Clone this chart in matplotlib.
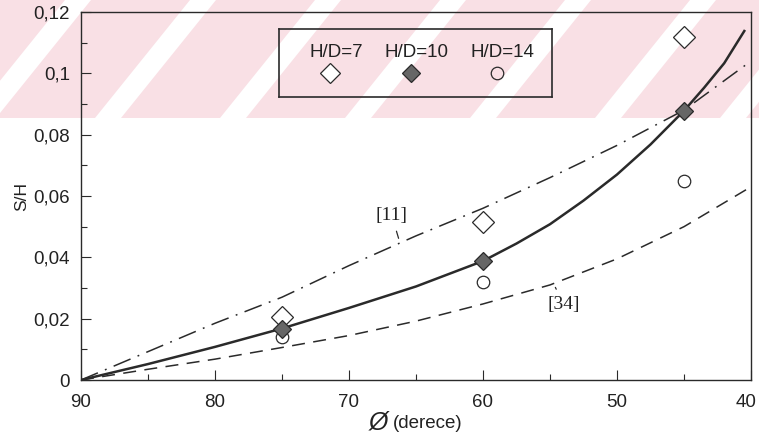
import numpy as np
import matplotlib.pyplot as plt
from matplotlib.patches import Polygon, Rectangle
from matplotlib.ticker import MultipleLocator, FuncFormatter

# measured points
angle = [75, 60, 45]
hd7 = [0.0205, 0.0515, 0.112]
hd10 = [0.0166, 0.0388, 0.0877]
hd14 = [0.0140, 0.0320, 0.0650]

# fitted curve (solid)
fit_x = [90, 85, 80, 75, 70, 65, 60, 57.5, 55, 52.5, 50, 47.5, 45, 43.5, 42, 40.5]
fit_y = [0.0, 0.0052, 0.0108, 0.0168, 0.0235, 0.0305, 0.0388, 0.0445, 0.0508, 0.0585,
         0.0670, 0.0768, 0.0878, 0.0953, 0.1033, 0.1138]

# reference [11] (dash-dot)
ref11_x = [90, 80, 75, 70, 65, 60, 55, 50, 45, 40]
ref11_y = [0.0, 0.0185, 0.0270, 0.0373, 0.0470, 0.0560, 0.0660, 0.0765, 0.0880, 0.1040]

# reference [34] (dashed)
ref34_x = [90, 85, 80, 75, 70, 65, 60, 55, 50, 45, 40]
ref34_y = [0.0, 0.0035, 0.0068, 0.0106, 0.0145, 0.0192, 0.0248, 0.0310, 0.0395, 0.0500, 0.0630]

xticks = [90, 80, 70, 60, 50, 40]

plt.rcParams['font.family'] = ['Liberation Sans', 'DejaVu Sans']
ink = '#2a2a2a'

fig = plt.figure(figsize=(7.59, 4.40), dpi=100)

# pinkish watermark stripes of the scan
fig.patches.append(Rectangle((0, 1 - 118 / 440), 1, 118 / 440, transform=fig.transFigure,
                             facecolor='#f9e0e5', edgecolor='none', zorder=-5))
for x0 in range(-30, 800, 125):
    pts = [(x0, 118), (x0 + 26, 118), (x0 + 26 + 95, 0), (x0 + 95, 0)]
    pts = [(px / 759, 1 - py / 440) for px, py in pts]
    fig.patches.append(Polygon(pts, closed=True, transform=fig.transFigure,
                               facecolor='white', edgecolor='none', zorder=-4))

ax = fig.add_axes([81 / 759, 1 - 380 / 440, 670 / 759, 368 / 440])
ax.patch.set_alpha(0)

ax.plot(fit_x, fit_y, color=ink, lw=1.8, zorder=3)
ax.plot(ref11_x, ref11_y, color=ink, lw=1.1, dashes=(12, 5, 1.2, 5), zorder=2)
ax.plot(ref34_x, ref34_y, color=ink, lw=1.1, dashes=(8.5, 5.5), zorder=2)

ax.plot(angle, hd7, ls='none', marker='D', ms=11, mfc='white', mec=ink, mew=0.9, zorder=4)
ax.plot(angle, hd10, ls='none', marker='D', ms=9, mfc='#666666', mec=ink, mew=0.9, zorder=5)
ax.plot(angle, hd14, ls='none', marker='o', ms=9, mfc='none', mec=ink, mew=0.9, zorder=4)

ax.set_xlim(90, 40)
ax.set_ylim(0, 0.12)
# last x label drawn by hand so it stays inside the picture
ax.set_xticks(xticks, labels=[str(v) for v in xticks[:-1]] + [''])
ax.xaxis.set_minor_locator(MultipleLocator(5))
ax.yaxis.set_major_locator(MultipleLocator(0.02))
ax.yaxis.set_minor_locator(MultipleLocator(0.01))
ax.yaxis.set_major_formatter(FuncFormatter(lambda v, p: ('%g' % round(v, 3)).replace('.', ',')))
ax.tick_params(which='both', direction='in', color=ink, labelsize=13.5, labelcolor='#222')
ax.tick_params(which='major', length=7, width=0.8)
ax.tick_params(which='minor', length=4, width=0.8)
ax.tick_params(axis='x', pad=10)
ax.tick_params(axis='y', pad=8)
for s in ax.spines.values():
    s.set_color(ink)
    s.set_linewidth(1.0)
ax.text(0.9925, -0.038, str(xticks[-1]), transform=ax.transAxes, ha='center', va='top',
        fontsize=13.5, color='#222')

ax.set_ylabel('S/H', fontsize=12.5, color='#222', labelpad=3)
fig.text(0.511, 0.012, 'Ø', fontsize=18, style='italic', color='#222', ha='right', va='bottom')
fig.text(0.517, 0.018, '(derece)', fontsize=13.5, color='#222', ha='left', va='bottom')

# legend box
lg = fig.add_axes([279 / 759, 1 - 97 / 440, 273 / 759, 68 / 440])
lg.set_xlim(0, 1)
lg.set_ylim(0, 1)
lg.set_xticks([])
lg.set_yticks([])
lg.set_facecolor('none')
for s in lg.spines.values():
    s.set_color(ink)
    s.set_linewidth(1.2)
labels = ['H/D=7', 'H/D=10', 'H/D=14']
lx = [0.21, 0.505, 0.82]
mx = [0.185, 0.485, 0.80]
for i, t in enumerate(labels):
    lg.text(lx[i], 0.65, t, ha='center', va='center', fontsize=13.5, color='#222')
lg.plot(mx[0], 0.36, marker='D', ms=10, mfc='white', mec=ink, mew=0.9)
lg.plot(mx[1], 0.36, marker='D', ms=9, mfc='#666666', mec=ink, mew=0.9)
lg.plot(mx[2], 0.36, marker='o', ms=9, mfc='none', mec=ink, mew=0.9)

# curve labels
ax.annotate('[11]', xy=(66.3, 0.0462), xytext=(66.8, 0.0535), fontsize=14,
            family='Liberation Serif', ha='center', va='center', color='#222',
            arrowprops=dict(arrowstyle='-', color=ink, lw=0.9, shrinkA=3, shrinkB=0))
ax.annotate('[34]', xy=(54.6, 0.0302), xytext=(54.0, 0.0247), fontsize=14,
            family='Liberation Serif', ha='center', va='center', color='#222',
            arrowprops=dict(arrowstyle='-', color=ink, lw=0.9, shrinkA=3, shrinkB=0))

fig.savefig('out.png', dpi=100)
